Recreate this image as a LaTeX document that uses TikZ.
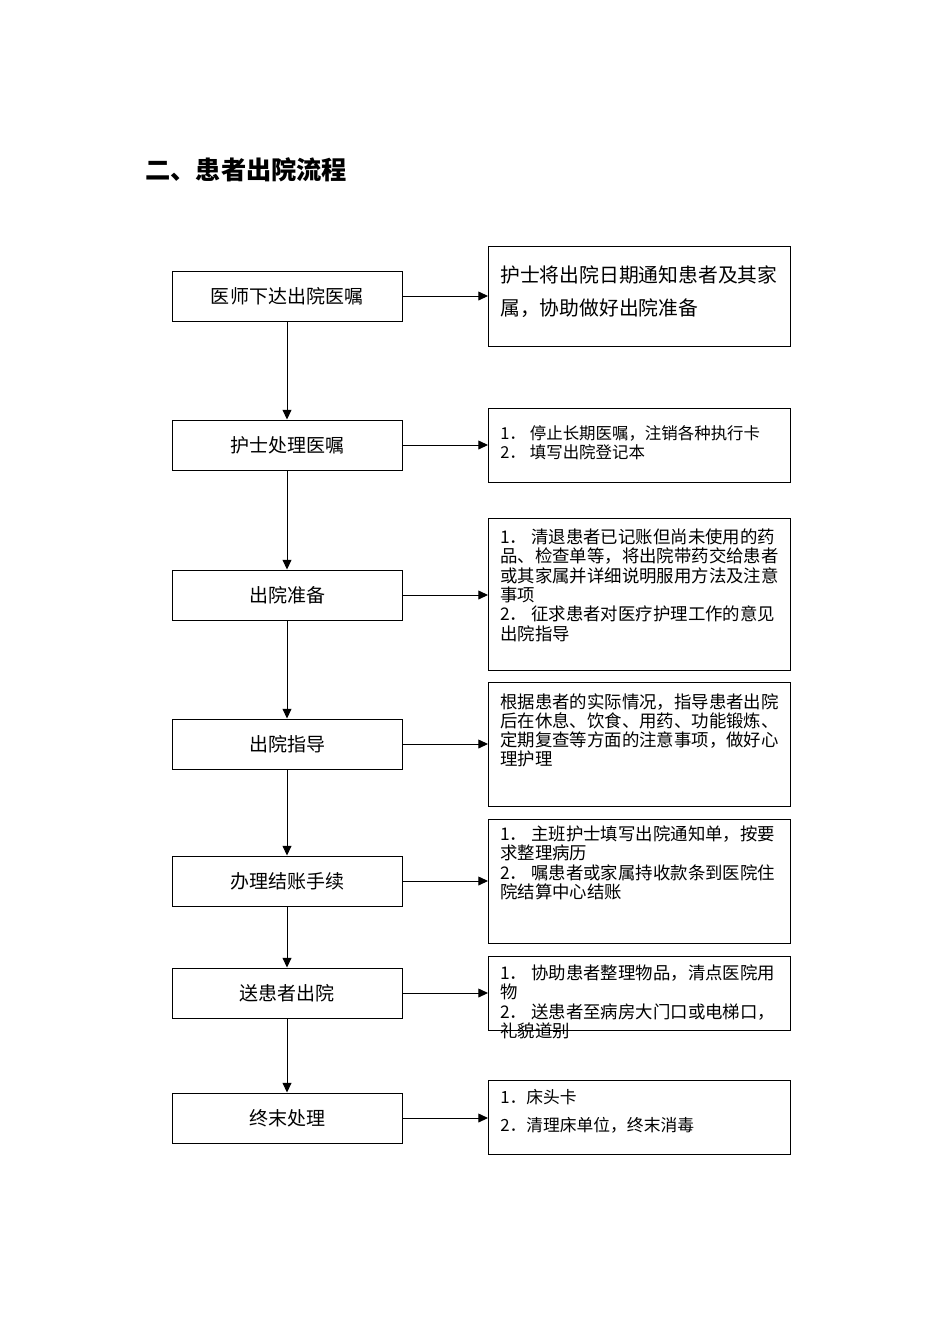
\documentclass[tikz,border=0pt]{standalone}
\usepackage{fontspec}
\setmainfont{Noto Sans CJK SC}
\usetikzlibrary{arrows.meta}
\def\px{0.6263pt}
\tikzset{
  lbox/.style={draw, line width=0.6pt, rectangle, minimum width=230*\px, minimum height=50*\px, inner sep=0pt, font=\fontsize{11.9}{14}\selectfont},
  rbox/.style={draw, line width=0.6pt, rectangle, minimum width=302*\px, anchor=north west, inner sep=0pt},
  rtext/.style={anchor=base west, inner sep=0pt},
  conn/.style={line width=0.6pt, -{Triangle[length=6pt,width=5.5pt]}}
}
\newcommand{\smalltxt}[1]{\parbox[t]{190pt}{\fontsize{10.9}{12.1}\selectfont\raggedright #1}}
\newcommand{\nm}[1]{#1．\hspace{2.5pt}}
\begin{document}
\begin{tikzpicture}[x=0.6263pt, y=-0.6263pt]
\useasboundingbox (0,0) rectangle (950,1344);
\fill[white] (0,0) rectangle (950,1344);

\node[anchor=base west, inner sep=0pt, font=\fontsize{15.8}{18}\selectfont\bfseries] (title) at (145,179.6) {二、患者出院流程};

% left boxes
\node[lbox] (l1) at (287,296) {医师下达出院医嘱};
\node[lbox] (l2) at (287,445) {护士处理医嘱};
\node[lbox] (l3) at (287,595) {出院准备};
\node[lbox] (l4) at (287,744) {出院指导};
\node[lbox] (l5) at (287,881) {办理结账手续};
\node[lbox] (l6) at (287,993) {送患者出院};
\node[lbox] (l7) at (287,1118) {终末处理};

% right boxes
\node[rbox, minimum height=100*\px] (r1) at (488,246) {};
\node[rbox, minimum height=74*\px] (r2) at (488,408) {};
\node[rbox, minimum height=152*\px] (r3) at (488,517.5) {};
\node[rbox, minimum height=124*\px] (r4) at (488,682) {};
\node[rbox, minimum height=124*\px] (r5) at (488,818.5) {};
\node[rbox, minimum height=74*\px] (r6) at (488,956) {};
\node[rbox, minimum height=74*\px] (r7) at (488,1080) {};

% right texts
\node[rtext] (t1) at (500,282.5) {\parbox[t]{182pt}{\fontsize{12.4}{20.7}\selectfont\raggedright 护士将出院日期通知患者及其家\\属，协助做好出院准备}};
\node[rtext] (t2) at (500,439.5) {\parbox[t]{190pt}{\fontsize{10.3}{12.1}\selectfont\raggedright \nm{1}停止长期医嘱，注销各种执行卡\\\nm{2}填写出院登记本}};
\node[rtext] (t3) at (500,543.5) {\smalltxt{\nm{1}清退患者已记账但尚未使用的药\\品、检查单等，将出院带药交给患者\\或其家属并详细说明服用方法及注意\\事项\\\nm{2}征求患者对医疗护理工作的意见\\出院指导}};
\node[rtext] (t4) at (500,708) {\smalltxt{根据患者的实际情况，指导患者出院\\后在休息、饮食、用药、功能锻炼、\\定期复查等方面的注意事项，做好心\\理护理}};
\node[rtext] (t5) at (500,840.5) {\smalltxt{\nm{1}主班护士填写出院通知单，按要\\求整理病历\\\nm{2}嘱患者或家属持收款条到医院住\\院结算中心结账}};
\node[rtext] (t6) at (500,979.5) {\smalltxt{\nm{1}协助患者整理物品，清点医院用\\物\\\nm{2}送患者至病房大门口或电梯口，\\礼貌道别}};
\node[rtext] (t7) at (500,1103) {\parbox[t]{190pt}{\fontsize{10.5}{17.7}\selectfont\raggedright 1．床头卡\\2．清理床单位，终末消毒}};

% vertical connectors
\draw[conn] (l1) -- (l2);
\draw[conn] (l2) -- (l3);
\draw[conn] (l3) -- (l4);
\draw[conn] (l4) -- (l5);
\draw[conn] (l5) -- (l6);
\draw[conn] (l6) -- (l7);

% horizontal connectors
\draw[conn] (l1.east) -- (l1.east -| r1.west);
\draw[conn] (l2.east) -- (l2.east -| r2.west);
\draw[conn] (l3.east) -- (l3.east -| r3.west);
\draw[conn] (l4.east) -- (l4.east -| r4.west);
\draw[conn] (l5.east) -- (l5.east -| r5.west);
\draw[conn] (l6.east) -- (l6.east -| r6.west);
\draw[conn] (l7.east) -- (l7.east -| r7.west);
\end{tikzpicture}
\end{document}
